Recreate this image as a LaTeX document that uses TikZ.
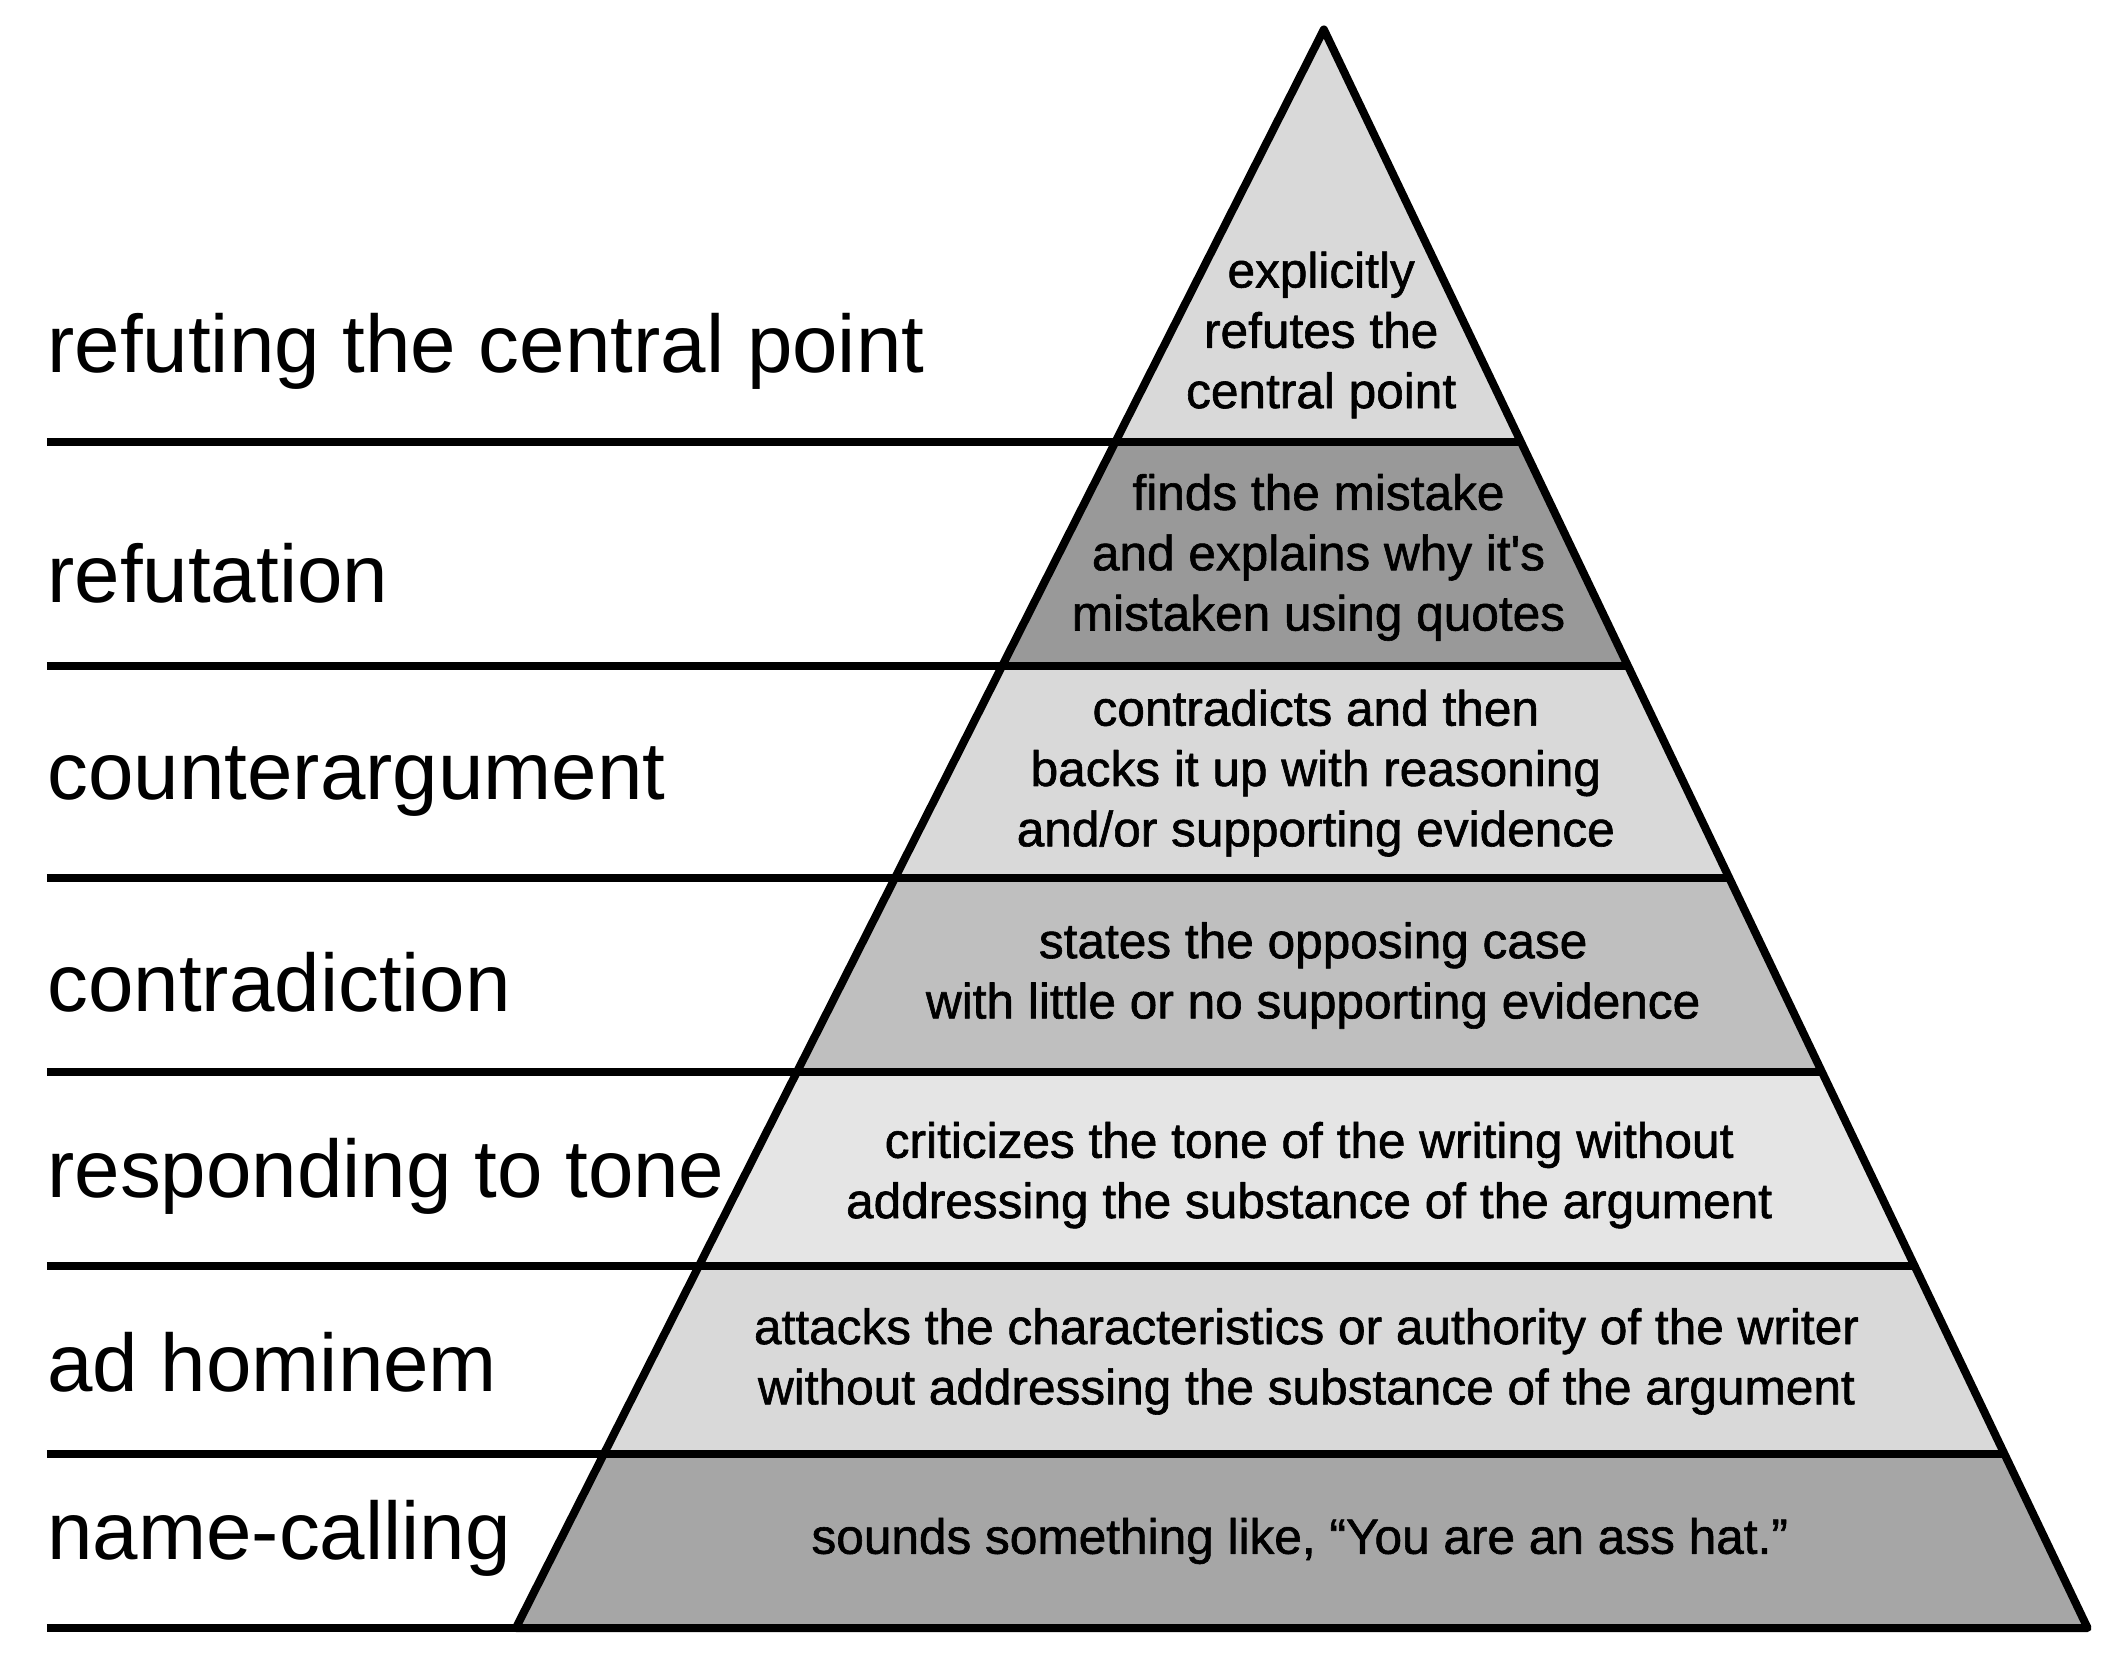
\documentclass[tikz,border=0pt]{standalone}
\usepackage{fontspec}
\setmainfont{Liberation Sans}
\newfontfamily\descfont{Liberation Sans}[FakeBold=1.2]
\begin{document}
\begin{tikzpicture}[x=0.5pt,y=-0.5pt,line join=round,
  tier/.style={draw=black,line width=3pt},
  lab/.style={anchor=west,font=\fontsize{30.5}{36}\selectfont,inner sep=0},
  desc/.style={align=center,font=\descfont\fontsize{18.5}{22.5}\selectfont,inner sep=0},
  sep/.style={line width=3pt}]
\useasboundingbox (0,0) rectangle (1568,1243);
\def\yy{{22,330,497,655,800,945,1085,1215}}
\def\shades{{85,60,85,75,90,85,65}}
\foreach \i in {0,...,6}{
  \pgfmathsetmacro{\ya}{\yy[\i]}
  \pgfmathsetmacro{\yb}{\yy[\i+1]}
  \pgfmathsetmacro{\s}{\shades[\i]}
  \pgfmathsetmacro{\xla}{988-0.5054*(\ya-22)}
  \pgfmathsetmacro{\xra}{988+0.4778*(\ya-22)}
  \pgfmathsetmacro{\xlb}{988-0.5054*(\yb-22)}
  \pgfmathsetmacro{\xrb}{988+0.4778*(\yb-22)}
  \fill[fill=white!\s!black] (\xla,\ya) -- (\xra,\ya) -- (\xrb,\yb) -- (\xlb,\yb) -- cycle;
  \draw[sep] (35,\yb) -- (\xlb,\yb);
}
\draw[tier] (988,22) -- (1558,1215) -- (385,1215) -- cycle;
\foreach \i in {1,...,6}{
  \pgfmathsetmacro{\y}{\yy[\i]}
  \pgfmathsetmacro{\xl}{988-0.5054*(\y-22)}
  \pgfmathsetmacro{\xr}{988+0.4778*(\y-22)}
  \draw[sep] (\xl,\y) -- (\xr,\y);
}
\node[lab] (l1) at (35,262) {refuting the central point};
\node[lab] (l2) at (35,428) {refutation};
\node[lab] (l3) at (35,583) {counterargument};
\node[lab] (l4) at (35,733) {contradiction};
\node[lab] (l5) at (35,878) {responding to tone};
\node[lab] (l6) at (35,1017) {ad hominem};
\node[lab] (l7) at (35,1148) {name-calling};
\node[desc] (d1) at (986,250) {explicitly\\refutes the\\central point};
\node[desc] (d2) at (984,416) {finds the mistake\\and explains why it's\\mistaken using quotes};
\node[desc] (d3) at (982,577) {contradicts and then\\backs it up with reasoning\\and/or supporting evidence};
\node[desc] (d4) at (980,728) {states the opposing case\\with little or no supporting evidence};
\node[desc] (d5) at (977,877) {criticizes the tone of the writing without\\addressing the substance of the argument};
\node[desc] (d6) at (975,1016) {attacks the characteristics or authority of the writer\\without addressing the substance of the argument};
\node[desc] (d7) at (970,1150) {sounds something like, “You are an ass hat.”};
\end{tikzpicture}
\end{document}
